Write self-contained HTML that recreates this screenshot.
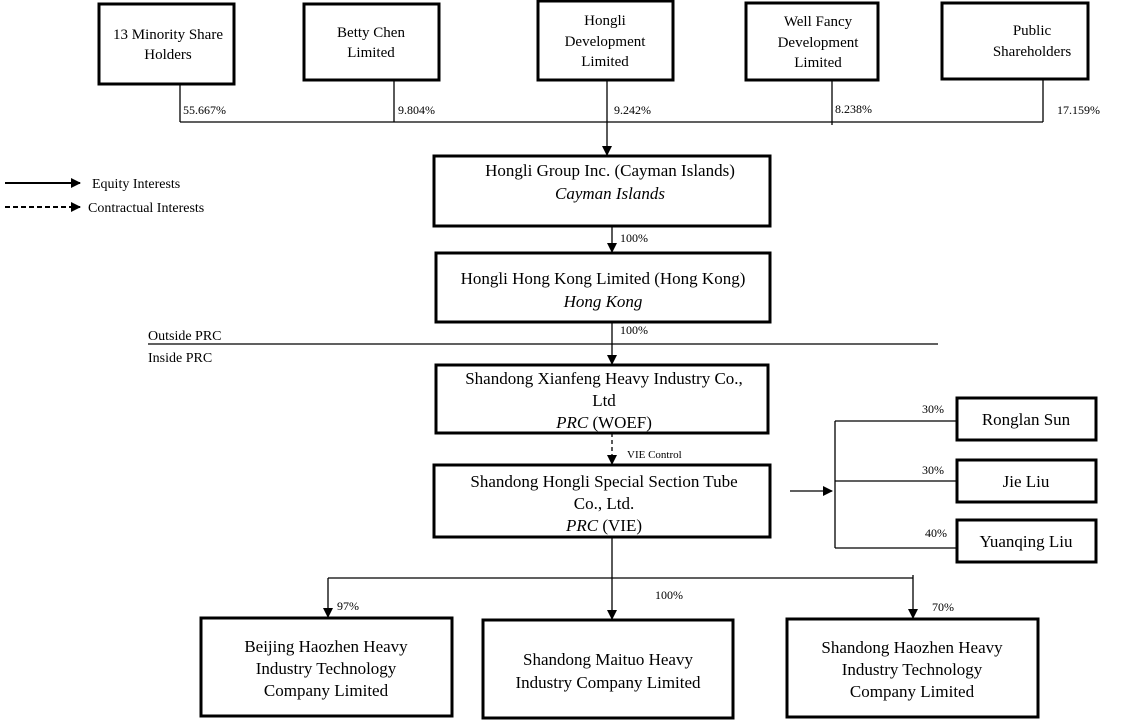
<!DOCTYPE html>
<html><head><meta charset="utf-8"><style>
html,body{margin:0;padding:0;background:#fff;}
svg{display:block;font-family:"Liberation Serif",serif;}
</style></head><body>
<svg width="1126" height="722" viewBox="0 0 1126 722" xmlns="http://www.w3.org/2000/svg">
<defs>
<marker id="ah" markerWidth="10" markerHeight="10" refX="9" refY="5" orient="auto" markerUnits="userSpaceOnUse">
<path d="M0,0 L10,5 L0,10 z" fill="#000"/></marker>
</defs>
<g fill="none" stroke="#000" stroke-width="3">
<rect x="99" y="4" width="135" height="80"/>
<rect x="304" y="4" width="135" height="76"/>
<rect x="538" y="1" width="135" height="79"/>
<rect x="746" y="3" width="132" height="77"/>
<rect x="942" y="3" width="146" height="76"/>
<rect x="434" y="156" width="336" height="70"/>
<rect x="436" y="253" width="334" height="69"/>
<rect x="436" y="365" width="332" height="68"/>
<rect x="434" y="465" width="336" height="72"/>
<rect x="957" y="398" width="139" height="42"/>
<rect x="957" y="460" width="139" height="42"/>
<rect x="957" y="520" width="139" height="42"/>
<rect x="201" y="618" width="251" height="98"/>
<rect x="483" y="620" width="250" height="98"/>
<rect x="787" y="619" width="251" height="98"/>
</g>
<g stroke="#000" stroke-width="1.3" fill="none">
<line x1="180" y1="122" x2="1043" y2="122"/>
<line x1="180" y1="84" x2="180" y2="122"/>
<line x1="394" y1="80" x2="394" y2="122"/>
<line x1="832" y1="80" x2="832" y2="125"/>
<line x1="1043" y1="79" x2="1043" y2="122"/>
<line x1="607" y1="80" x2="607" y2="155" marker-end="url(#ah)"/>
<line x1="612" y1="226" x2="612" y2="252" marker-end="url(#ah)"/>
<line x1="612" y1="322" x2="612" y2="364" marker-end="url(#ah)"/>
<line x1="148" y1="344" x2="938" y2="344"/>
<line x1="612" y1="433" x2="612" y2="464" stroke-dasharray="4,3" marker-end="url(#ah)"/>
<line x1="790" y1="491" x2="832" y2="491" marker-end="url(#ah)"/>
<line x1="835" y1="421" x2="835" y2="548"/>
<line x1="835" y1="421" x2="957" y2="421"/>
<line x1="835" y1="481" x2="957" y2="481"/>
<line x1="835" y1="548" x2="957" y2="548"/>
<line x1="612" y1="537" x2="612" y2="619" marker-end="url(#ah)"/>
<line x1="328" y1="578" x2="913" y2="578"/>
<line x1="328" y1="578" x2="328" y2="617" marker-end="url(#ah)"/>
<line x1="913" y1="575" x2="913" y2="618" marker-end="url(#ah)"/>
<line x1="5" y1="183" x2="80" y2="183" stroke-width="2" marker-end="url(#ah)"/>
<line x1="5" y1="207" x2="80" y2="207" stroke-width="2" stroke-dasharray="5,3" marker-end="url(#ah)"/>
</g>
<g font-size="15" text-anchor="middle" fill="#000">
<text x="168" y="39">13 Minority Share</text><text x="168" y="59">Holders</text>
<text x="371" y="37">Betty Chen</text><text x="371" y="57">Limited</text>
<text x="605" y="25">Hongli</text><text x="605" y="46">Development</text><text x="605" y="66">Limited</text>
<text x="818" y="26">Well Fancy</text><text x="818" y="47">Development</text><text x="818" y="67">Limited</text>
<text x="1032" y="35">Public</text><text x="1032" y="56">Shareholders</text>
</g>
<g font-size="12" fill="#000">
<text x="183" y="114">55.667%</text>
<text x="398" y="114">9.804%</text>
<text x="614" y="114">9.242%</text>
<text x="835" y="113">8.238%</text>
<text x="1057" y="114">17.159%</text>
<text x="620" y="242">100%</text>
<text x="620" y="334">100%</text>
<text x="922" y="413">30%</text>
<text x="922" y="474">30%</text>
<text x="925" y="537">40%</text>
<text x="337" y="610">97%</text>
<text x="655" y="599">100%</text>
<text x="932" y="611">70%</text>
<text x="627" y="458" font-size="11">VIE Control</text>
</g>
<g font-size="14" fill="#000">
<text x="92" y="188">Equity Interests</text>
<text x="88" y="212">Contractual Interests</text>
<text x="148" y="340">Outside PRC</text>
<text x="148" y="362">Inside PRC</text>
</g>
<g font-size="17" text-anchor="middle" fill="#000">
<text x="610" y="176">Hongli Group Inc. (Cayman Islands)</text>
<text x="610" y="199" font-style="italic">Cayman Islands</text>
<text x="603" y="284">Hongli Hong Kong Limited (Hong Kong)</text>
<text x="603" y="307" font-style="italic">Hong Kong</text>
<text x="604" y="384">Shandong Xianfeng Heavy Industry Co.,</text>
<text x="604" y="406">Ltd</text>
<text x="604" y="428"><tspan font-style="italic">PRC</tspan> (WOEF)</text>
<text x="604" y="487">Shandong Hongli Special Section Tube</text>
<text x="604" y="509">Co., Ltd.</text>
<text x="604" y="531"><tspan font-style="italic">PRC</tspan> (VIE)</text>
<text x="1026" y="425">Ronglan Sun</text>
<text x="1026" y="487">Jie Liu</text>
<text x="1026" y="547">Yuanqing Liu</text>
<text x="326" y="652">Beijing Haozhen Heavy</text>
<text x="326" y="674">Industry Technology</text>
<text x="326" y="696">Company Limited</text>
<text x="608" y="665">Shandong Maituo Heavy</text>
<text x="608" y="688">Industry Company Limited</text>
<text x="912" y="653">Shandong Haozhen Heavy</text>
<text x="912" y="675">Industry Technology</text>
<text x="912" y="697">Company Limited</text>
</g>
</svg>
</body></html>
